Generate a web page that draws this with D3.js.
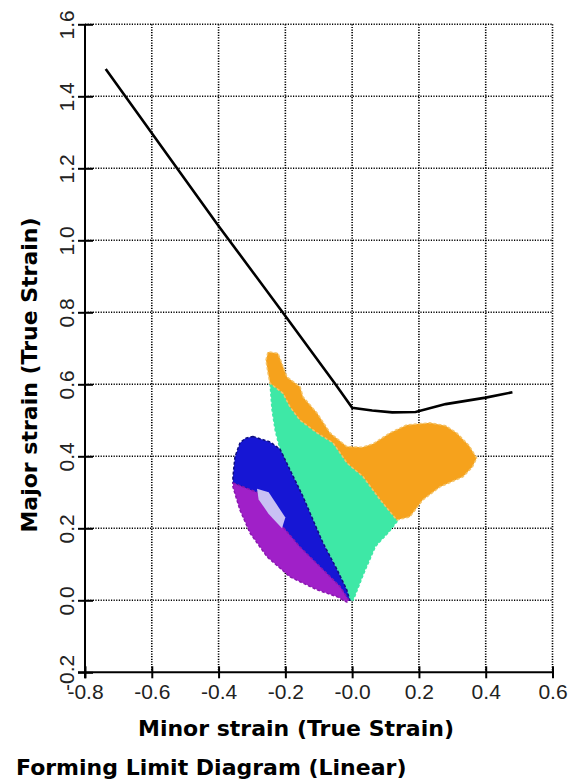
<!DOCTYPE html>
<html>
<head>
<meta charset="utf-8">
<script src="https://cdn.jsdelivr.net/npm/d3@7/dist/d3.min.js"></script>
<style>
    body { margin: 0; background: #fff; }
    .tick-label { font-family: 'Liberation Sans Narrow', 'Liberation Sans', Arial, sans-serif; font-size: 21px; fill: #222; }
    .title { font-family: 'DejaVu Sans', sans-serif; font-weight: bold; font-size: 22px; fill: #000; }
</style>
</head>
<body>
<script>

// Axis ticks
const xTicks = [-0.8, -0.6, -0.4, -0.2, 0, 0.2, 0.4, 0.6]
const xTickLabels = ['-0.8', '-0.6', '-0.4', '-0.2', '-0.0', '0.2', '0.4', '0.6']
const yTicks = [-0.2, 0, 0.2, 0.4, 0.6, 0.8, 1.0, 1.2, 1.4, 1.6]
const yTickLabels = ['-0.2', '0.0', '0.2', '0.4', '0.6', '0.8', '1.0', '1.2', '1.4', '1.6']

// Forming limit curve
const flcMinor = [-0.738, -0.40, -0.20, -0.05, 0.0, 0.06, 0.12, 0.19, 0.28, 0.40, 0.48]
const flcMajor = [1.476, 1.04, 0.79, 0.60, 0.535, 0.527, 0.522, 0.523, 0.545, 0.563, 0.578]

// Strain clouds, outlines as [minor, major]
const greenCloud = [[-0.246, 0.605], [-0.22, 0.62], [-0.19, 0.58], [-0.15, 0.52], [-0.10, 0.47], [-0.05, 0.44],
    [0.0, 0.41], [0.06, 0.40], [0.10, 0.35], [0.13, 0.28], [0.14, 0.225], [0.11, 0.19], [0.07, 0.15], [0.035, 0.075],
    [0.003, 0.0], [-0.007, 0.0], [-0.016, 0.03], [-0.045, 0.085], [-0.087, 0.16], [-0.117, 0.223], [-0.147, 0.288],
    [-0.186, 0.362], [-0.216, 0.42], [-0.23, 0.47], [-0.24, 0.53]]
const orangeCloud = [[-0.258, 0.667], [-0.252, 0.69], [-0.222, 0.686], [-0.195, 0.62], [-0.156, 0.593], [-0.147, 0.565],
    [-0.105, 0.52], [-0.066, 0.465], [-0.016, 0.427], [0.03, 0.425], [0.063, 0.435], [0.113, 0.465], [0.163, 0.487],
    [0.233, 0.493], [0.28, 0.485], [0.313, 0.465], [0.35, 0.43], [0.373, 0.395], [0.36, 0.37], [0.332, 0.343],
    [0.263, 0.315], [0.212, 0.279], [0.173, 0.232], [0.134, 0.223], [0.084, 0.279], [0.033, 0.343], [-0.015, 0.381],
    [-0.057, 0.437], [-0.105, 0.465], [-0.156, 0.5], [-0.186, 0.537], [-0.207, 0.575], [-0.246, 0.603], [-0.252, 0.631]]
const blueCloud = [[-0.297, 0.455], [-0.246, 0.44], [-0.216, 0.42], [-0.186, 0.362], [-0.147, 0.288], [-0.117, 0.223],
    [-0.087, 0.159], [-0.045, 0.085], [-0.016, 0.029], [-0.007, 0.0], [-0.02, 0.0], [-0.05, 0.04], [-0.09, 0.08],
    [-0.16, 0.14], [-0.23, 0.22], [-0.29, 0.3], [-0.357, 0.326], [-0.357, 0.343], [-0.351, 0.398], [-0.336, 0.437],
    [-0.32, 0.45]]
const purpleCloud = [[-0.357, 0.326], [-0.285, 0.3], [-0.225, 0.223], [-0.156, 0.148], [-0.087, 0.085], [-0.036, 0.038],
    [-0.01, 0.0], [-0.016, -0.005], [-0.045, 0.01], [-0.105, 0.029], [-0.186, 0.065], [-0.255, 0.121], [-0.306, 0.187],
    [-0.336, 0.251], [-0.357, 0.315]]
const blueSpeckle = [[-0.285, 0.31], [-0.25, 0.30], [-0.20, 0.23], [-0.21, 0.20], [-0.25, 0.24], [-0.28, 0.28]]

const clouds = [
    { pts: greenCloud, fill: '#3ee8a6', stroke: '#3ee8a6' },
    { pts: orangeCloud, fill: '#f6a21c', stroke: '#f4c46a' },
    { pts: blueCloud, fill: '#1616d4', stroke: '#101080' },
    { pts: purpleCloud, fill: '#a020c8', stroke: '#8a18b0' },
    { pts: blueSpeckle, fill: '#c8c0f4', stroke: 'none' }
]

const w = 574
const h = 783

const svg = d3.select('body')
    .append('svg')
        .attr('width', w)
        .attr('height', h)

const xScale = d3.scaleLinear().domain([-0.8, 0.6]).range([85, 552.5])
const yScale = d3.scaleLinear().domain([-0.2, 1.6]).range([672.3, 24.3])

// Dotted grid
const grid = svg.append('g').attr('class', 'grid')
    .attr('stroke', '#000')
    .attr('stroke-width', 1.6)
    .attr('stroke-dasharray', '1.2,1.4')

grid.selectAll('.vgrid')
    .data(xTicks.slice(1))
    .enter()
    .append('line')
        .attr('x1', d => xScale(d))
        .attr('x2', d => xScale(d))
        .attr('y1', yScale(1.6))
        .attr('y2', yScale(-0.2))

grid.selectAll('.hgrid')
    .data(yTicks.slice(1))
    .enter()
    .append('line')
        .attr('x1', xScale(-0.8))
        .attr('x2', xScale(0.6))
        .attr('y1', d => yScale(d))
        .attr('y2', d => yScale(d))

// Clouds
const area = d3.line()
    .x(d => xScale(d[0]))
    .y(d => yScale(d[1]))
    .curve(d3.curveLinearClosed)

svg.selectAll('.cloud')
    .data(clouds)
    .enter()
    .append('path')
        .attr('class', 'cloud')
        .attr('d', d => area(d.pts))
        .attr('fill', d => d.fill)
        .attr('stroke', d => d.stroke)
        .attr('stroke-width', 1.5)
        .attr('stroke-dasharray', '3,2')
        .attr('stroke-linejoin', 'round')

// FLC
const flcLine = d3.line()
    .x(d => xScale(d[0]))
    .y(d => yScale(d[1]))

svg.append('path')
    .attr('d', flcLine(flcMinor.map((m, i) => [m, flcMajor[i]])))
    .attr('fill', 'none')
    .attr('stroke', '#000')
    .attr('stroke-width', 2.6)

// Axes
const xAxis = d3.axisBottom(xScale)
    .tickValues(xTicks)
    .tickFormat((d, i) => xTickLabels[i])
    .tickSizeOuter(0)

const gx = svg.append('g')
    .attr('transform', `translate(0, ${yScale(-0.2)})`)
    .call(xAxis)
gx.select('.domain').attr('stroke-width', 2).attr('d', `M${xScale(-0.8) - 7},0H${xScale(0.6)}`)
gx.selectAll('.tick line').attr('y1', -6).attr('y2', 6).attr('stroke-width', 2)
gx.selectAll('.tick text')
    .attr('class', 'tick-label')
    .attr('y', 27)
    .attr('dy', 0)
    .attr('font-size', null)
    .attr('font-family', null)

const yAxis = d3.axisLeft(yScale)
    .tickValues(yTicks)
    .tickFormat((d, i) => yTickLabels[i])
    .tickSizeOuter(0)

const gy = svg.append('g')
    .attr('transform', `translate(${xScale(-0.8)}, 0)`)
    .call(yAxis)
gy.select('.domain').attr('stroke-width', 2).attr('d', `M0,${yScale(1.6)}V${yScale(-0.2) + 6}`)
gy.selectAll('.tick line').attr('x1', -7).attr('x2', 8).attr('stroke-width', 2)
gy.selectAll('.tick text')
    .attr('class', 'tick-label')
    .attr('x', null)
    .attr('dy', 0)
    .attr('text-anchor', 'middle')
    .attr('transform', 'translate(-11, 0) rotate(-90)')
    .attr('font-size', null)
    .attr('font-family', null)

// Titles
svg.append('text')
    .attr('class', 'title')
    .attr('x', 296)
    .attr('y', 736)
    .attr('text-anchor', 'middle')
    .text('Minor strain (True Strain)')

svg.append('text')
    .attr('class', 'title')
    .attr('transform', 'translate(37, 375) rotate(-90)')
    .attr('text-anchor', 'middle')
    .text('Major strain (True Strain)')

svg.append('text')
    .attr('class', 'title')
    .attr('x', 16)
    .attr('y', 775)
    .text('Forming Limit Diagram (Linear)')

</script>
</body>
</html>
